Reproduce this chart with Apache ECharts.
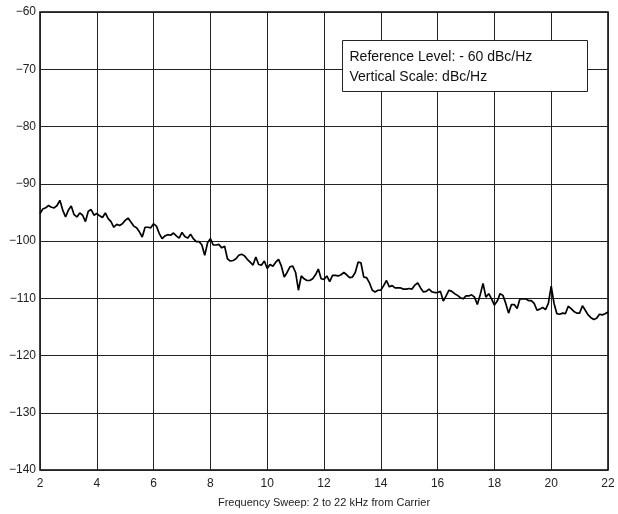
<!DOCTYPE html>
<html>
<head>
<meta charset="utf-8">
<script src="https://cdn.jsdelivr.net/npm/echarts@6/dist/echarts.min.js"></script>
<style>
html,body{margin:0;padding:0;background:#fff}
#chart{width:618px;height:514px}
</style>
</head>
<body>
<div id="chart"></div>
<script>
// sweep settings (kHz)
var sweepStart = 2;
var sweepStep = 0.1;

// phase noise readings, dBc/Hz, one per sweep step
var noise2to6 = [-95.2,-94.4,-94.2,-93.8,-94.1,-94.2,-93.8,-92.9,-94.6,-95.8,
	-94.6,-93.9,-95.4,-95.8,-95.1,-95.5,-96.6,-94.8,-94.5,-95.5,
	-95.2,-95.6,-95.9,-95.1,-96.1,-96.6,-97.6,-97.1,-97.3,-97.0,
	-96.4,-96.0,-96.7,-97.4,-97.7,-98.4,-99.3,-97.6,-97.6,-97.7];
var noise6to10 = [-97.0,-97.4,-98.7,-99.6,-99.1,-98.9,-99.0,-98.6,-99.1,-99.5,
	-98.5,-99.2,-99.5,-98.8,-99.6,-100.1,-100.1,-100.7,-102.5,-100.3,
	-99.6,-100.7,-100.7,-100.6,-101.2,-100.9,-103.1,-103.5,-103.4,-103.1,
	-102.5,-102.3,-102.6,-103.2,-103.7,-104.2,-102.8,-104.1,-104.2,-103.5];
var noise10to14 = [-104.8,-104.1,-104.4,-103.7,-103.2,-104.4,-106.3,-105.5,-104.5,-104.4,
	-105.5,-108.6,-106.1,-106.6,-106.9,-106.9,-106.6,-105.9,-104.9,-106.6,
	-106.7,-106.1,-107.1,-106.0,-106.0,-106.1,-105.9,-105.5,-105.9,-106.4,
	-106.3,-105.5,-103.7,-103.8,-106.3,-106.4,-107.3,-108.6,-108.9,-108.6];
var noise14to18 = [-108.6,-107.8,-106.9,-108.0,-107.8,-108.2,-108.2,-108.2,-108.4,-108.4,
	-108.3,-108.4,-107.7,-107.3,-108.2,-108.9,-108.8,-108.4,-108.9,-109.0,
	-109.0,-108.8,-110.5,-109.6,-108.6,-108.8,-109.2,-109.5,-109.9,-110.1,
	-109.6,-109.6,-109.4,-109.8,-111.1,-109.4,-107.4,-109.8,-109.2,-110.1];
var noise18to22 = [-111.2,-110.5,-109.2,-109.5,-110.9,-112.6,-111.1,-111.1,-111.8,-110.1,
	-110.1,-110.1,-110.4,-110.4,-110.9,-112.1,-111.9,-111.6,-112.0,-110.9,
	-107.9,-110.9,-112.7,-112.8,-112.6,-112.7,-111.4,-111.8,-112.3,-112.6,
	-112.6,-111.3,-112.1,-112.9,-113.4,-113.7,-113.5,-112.8,-112.9,-112.7,
	-112.4];

var noteLines = ['Reference Level: - 60 dBc/Hz', 'Vertical Scale: dBc/Hz'];

var levels = noise2to6.concat(noise6to10, noise10to14, noise14to18, noise18to22);
var points = [];
for (var i = 0; i < levels.length; i++) {
	points.push([+(sweepStart + i * sweepStep).toFixed(2), levels[i]]);
}

var font = '"Liberation Sans", Arial, Helvetica, sans-serif';
var myChart = echarts.init(document.getElementById('chart'));
var option = {
	backgroundColor: '#fff',
	animation: false,
	grid: {
		left: 40, right: 10, top: 12, bottom: 44,
		show: true,
		borderColor: '#000',
		borderWidth: 1.5
	},
	xAxis: {
		type: 'value',
		min: 2, max: 22, interval: 2,
		name: 'Frequency Sweep: 2 to 22 kHz from Carrier',
		nameLocation: 'middle',
		nameGap: 27,
		nameTextStyle: { color: '#222', fontSize: 11, fontFamily: font },
		axisLine: { show: false },
		axisTick: { show: false },
		axisLabel: { color: '#222', fontSize: 12, fontFamily: font, margin: 8 },
		splitLine: { show: true, lineStyle: { color: '#222', width: 1 } }
	},
	yAxis: {
		type: 'value',
		min: -140, max: -60, interval: 10,
		axisLine: { show: false },
		axisTick: { show: false },
		axisLabel: {
			color: '#222', fontSize: 12, fontFamily: font, margin: 4,
			formatter: function (v) { return String(v).replace('-', '\u2212'); }
		},
		splitLine: { show: true, lineStyle: { color: '#222', width: 1 } }
	},
	graphic: [{
		type: 'group',
		left: 342, top: 40,
		z: 100,
		children: [{
			type: 'rect',
			z: 100,
			shape: { x: 0, y: 0, width: 245, height: 51 },
			style: { fill: '#fff', stroke: '#222', lineWidth: 1 }
		}, {
			type: 'text',
			z: 101,
			x: 7, y: 7,
			style: { text: noteLines.join('\n'), fill: '#111', font: '14px ' + font, lineHeight: 20 }
		}]
	}],
	series: [{
		type: 'line',
		data: points,
		showSymbol: false,
		lineStyle: { color: '#000', width: 1.7 },
		z: 3
	}]
};
myChart.setOption(option);
</script>
</body>
</html>
